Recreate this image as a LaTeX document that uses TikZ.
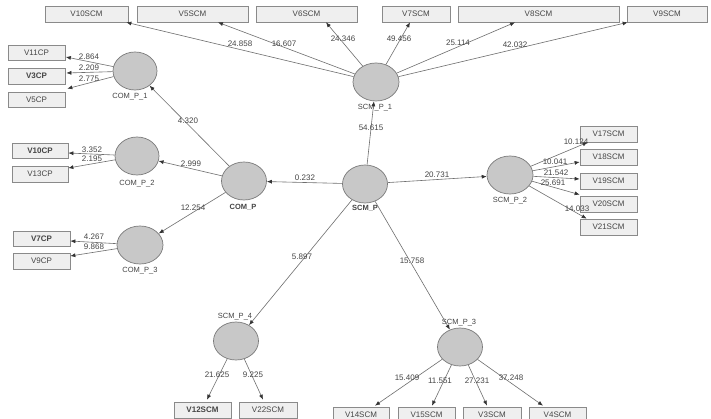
\documentclass[tikz,border=0pt]{standalone}
\usepackage{fontspec}
\setmainfont{Liberation Sans}
\usetikzlibrary{arrows.meta,calc,shapes.geometric}
\definecolor{boxfill}{HTML}{EFEFEF}
\definecolor{boxline}{HTML}{8A8A8A}
\definecolor{circfill}{HTML}{C8C8C8}
\definecolor{circline}{HTML}{7A7A7A}
\definecolor{txt}{HTML}{454545}
\definecolor{edge}{HTML}{6E6E6E}
\definecolor{tipc}{HTML}{333333}
\tikzset{
 ind/.style={draw=boxline, fill=boxfill, line width=0.7pt, minimum height=16pt, inner sep=0pt, font=\fontsize{8}{9}\selectfont, text=txt},
 indb/.style={ind, font=\fontsize{8}{9}\selectfont\bfseries},
 lat/.style={ellipse, draw=circline, fill=circfill, line width=0.7pt, minimum width=45pt, minimum height=38pt, inner sep=0pt},
 lab/.style={font=\fontsize{8}{9}\selectfont, text=txt, inner sep=0pt},
 nm/.style={font=\fontsize{7.5}{9}\selectfont, text=txt, inner sep=0pt},
 nmb/.style={font=\fontsize{7.5}{9}\selectfont\bfseries, text=txt, inner sep=0pt},
 arr/.style={draw=edge, line width=0.6pt, -{Latex[length=5pt,width=4pt,color=tipc]}}
}
\begin{document}
\begin{tikzpicture}[x=1pt,y=-1pt]
\useasboundingbox (0,0) rectangle (711,419);
\clip (0,0) rectangle (711,419);
\fill[white] (0,0) rectangle (711,419);
% top indicator boxes
\node[ind, minimum width=83pt]  (V10SCM) at (86.5,14) {V10SCM};
\node[ind, minimum width=111pt] (V5SCM)  at (192.5,14) {V5SCM};
\node[ind, minimum width=101pt] (V6SCM)  at (306.5,14) {V6SCM};
\node[ind, minimum width=68pt]  (V7SCM)  at (416,14) {V7SCM};
\node[ind, minimum width=161pt] (V8SCM)  at (538.5,14) {V8SCM};
\node[ind, minimum width=80pt]  (V9SCM)  at (667,14) {V9SCM};
% left CP boxes
\node[ind,  minimum width=57pt, minimum height=15pt] (V11CP) at (36.5,52.5) {V11CP};
\node[indb, minimum width=57pt] (V3CP)  at (36.5,76) {V3CP};
\node[ind,  minimum width=57pt, minimum height=15pt] (V5CP)  at (36.5,99.5) {V5CP};
\node[indb, minimum width=56pt, minimum height=15pt] (V10CP) at (40,150.5) {V10CP};
\node[ind,  minimum width=56pt] (V13CP) at (40,174) {V13CP};
\node[indb, minimum width=57pt, minimum height=15pt] (V7CP)  at (41.5,238.5) {V7CP};
\node[ind,  minimum width=57pt] (V9CP)  at (41.5,261) {V9CP};
% right boxes
\node[ind, minimum width=57pt] (V17SCM) at (608.5,134) {V17SCM};
\node[ind, minimum width=57pt] (V18SCM) at (608.5,157) {V18SCM};
\node[ind, minimum width=57pt] (V19SCM) at (608.5,181) {V19SCM};
\node[ind, minimum width=57pt] (V20SCM) at (608.5,204) {V20SCM};
\node[ind, minimum width=57pt] (V21SCM) at (608.5,227) {V21SCM};
% bottom boxes
\node[indb, minimum width=57pt] (V12SCM) at (202.5,410) {V12SCM};
\node[ind,  minimum width=58pt] (V22SCM) at (268,410) {V22SCM};
\node[ind,  minimum width=56pt] (V14SCM) at (361,415) {V14SCM};
\node[ind,  minimum width=57pt] (V15SCM) at (426.5,415) {V15SCM};
\node[ind,  minimum width=58pt] (V3SCM)  at (492,415) {V3SCM};
\node[ind,  minimum width=57pt] (V4SCM)  at (557.5,415) {V4SCM};
% latent variables
\node[lat, minimum width=44pt] (C1) at (135,71) {};
\node[lat, minimum width=44pt] (C2) at (137,156) {};
\node[lat, minimum width=46pt] (C3) at (140,245) {};
\node[lat, minimum width=45pt] (CP) at (244,181) {};
\node[lat, minimum width=45pt] (SP) at (365,184) {};
\node[lat, minimum width=46pt] (S1) at (376,82) {};
\node[lat, minimum width=46pt] (S2) at (510,175) {};
\node[lat, minimum width=45pt] (S4) at (236,341) {};
\node[lat, minimum width=45pt] (S3) at (460,347) {};
% latent names
\node[nm]  (nC1) at (130,96.5) {COM\_P\_1};
\node[nm]  (nC2) at (137,183.5) {COM\_P\_2};
\node[nm]  (nC3) at (140,270.5) {COM\_P\_3};
\node[nmb] (nCP) at (243,207.5) {COM\_P};
\node[nmb] (nSP) at (365,208.5) {SCM\_P};
\node[nm]  (nS1) at (375,108) {SCM\_P\_1};
\node[nm]  (nS2) at (510,200.5) {SCM\_P\_2};
\node[nm]  (nS4) at (235,317) {SCM\_P\_4};
\node[nm]  (nS3) at (459,323) {SCM\_P\_3};
% structural paths
\draw[arr] (SP) -- (S1);
\draw[arr] (SP) -- (CP);
\draw[arr] (SP) -- (S2);
\draw[arr] (SP) -- (S4);
\draw[arr] (SP) -- (S3);
\draw[arr] (CP) -- (C1);
\draw[arr] (CP) -- (C2);
\draw[arr] (CP) -- (C3);
% SCM_P_1 outer
\draw[arr] (S1) -- ($(V10SCM.south east)+(-2,0)$);
\draw[arr] (S1) -- ($(V5SCM.south)+(25.5,0)$);
\draw[arr] (S1) -- ($(V6SCM.south)+(19.5,0)$);
\draw[arr] (S1) -- ($(V7SCM.south)+(-6,0)$);
\draw[arr] (S1) -- ($(V8SCM.south)+(-23.5,0)$);
\draw[arr] (S1) -- ($(V9SCM.south west)+(1,0)$);
% COM_P_1 outer
\draw[arr] (C1) -- ($(V11CP.east)+(0.5,4.5)$);
\draw[arr] (C1) -- ($(V3CP.east)+(1,-3)$);
\draw[arr] (C1) -- ($(V5CP.north east)+(2,-3)$);
% COM_P_2 outer
\draw[arr] (C2) -- ($(V10CP.east)+(0,2.5)$);
\draw[arr] (C2) -- ($(V13CP.east)+(0,-6)$);
% COM_P_3 outer
\draw[arr] (C3) -- ($(V7CP.east)+(0,2.5)$);
\draw[arr] (C3) -- ($(V9CP.east)+(0,-5)$);
% SCM_P_2 outer
\draw[arr] (S2) -- ($(V17SCM.south west)+(8,0)$);
\draw[arr] (S2) -- ($(V18SCM.west)+(0,5)$);
\draw[arr] (S2) -- ($(V19SCM.west)+(0,-2)$);
\draw[arr] (S2) -- ($(V20SCM.north west)+(0,-1)$);
\draw[arr] (S2) -- ($(V21SCM.north west)+(7,0)$);
% SCM_P_4 outer
\draw[arr] (S4) -- ($(V12SCM.north)+(4.5,-2)$);
\draw[arr] (S4) -- ($(V22SCM.north)+(-5,-2)$);
% SCM_P_3 outer
\draw[arr] (S3) -- ($(V14SCM.north)+(14,-1)$);
\draw[arr] (S3) -- ($(V15SCM.north)+(5.5,-1)$);
\draw[arr] (S3) -- ($(V3SCM.north)+(-5,-1)$);
\draw[arr] (S3) -- ($(V4SCM.north)+(-14.5,-1)$);
% path coefficient labels
\node[lab] (t1) at (240,44) {24.858};
\node[lab] (t2) at (284,44) {16.607};
\node[lab] (t3) at (343,39) {24.346};
\node[lab] (t4) at (399,39) {49.456};
\node[lab] (t5) at (458,43) {25.114};
\node[lab] (t6) at (515,45) {42.032};
\node[lab] (t7) at (371,128) {54.615};
\node[lab] (l1) at (89,57) {2.864};
\node[lab] (l2) at (89,68) {2.209};
\node[lab] (l3) at (89,79) {2.775};
\node[lab] (l4) at (188,121) {4.320};
\node[lab] (l5) at (92,150) {3.352};
\node[lab] (l6) at (92,159) {2.195};
\node[lab] (l7) at (191,164) {2.999};
\node[lab] (l8) at (193,208) {12.254};
\node[lab] (l9) at (94,237) {4.267};
\node[lab] (l10) at (94,247) {9.868};
\node[lab] (m1) at (305,178) {0.232};
\node[lab] (m2) at (437,175) {20.731};
\node[lab] (r1) at (576,142) {10.124};
\node[lab] (r2) at (555,162) {10.041};
\node[lab] (r3) at (556,173) {21.542};
\node[lab] (r4) at (553,183) {25.691};
\node[lab] (r5) at (577,209) {14.033};
\node[lab] (b1) at (302,257) {5.897};
\node[lab] (b2) at (412,261) {15.758};
\node[lab] (b3) at (217,375) {21.625};
\node[lab] (b4) at (253,375) {9.225};
\node[lab] (b5) at (407,378) {15.409};
\node[lab] (b6) at (440,381) {11.551};
\node[lab] (b7) at (477,381) {27.231};
\node[lab] (b8) at (511,378) {37.248};
\end{tikzpicture}
\end{document}
